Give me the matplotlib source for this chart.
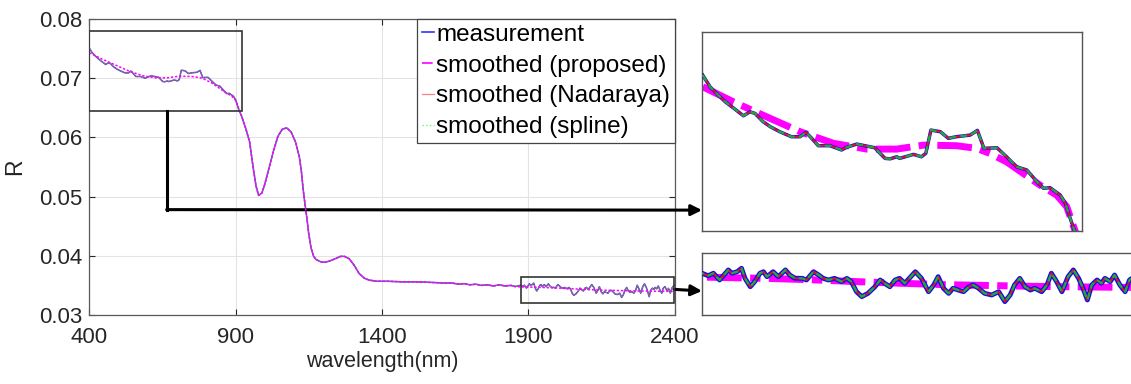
import numpy as np
import matplotlib
matplotlib.use('Agg')
import matplotlib.pyplot as plt
from matplotlib.patches import Rectangle
from matplotlib.lines import Line2D
from matplotlib.ticker import FormatStrFormatter

plt.rcParams['font.family'] = ['Liberation Sans', 'DejaVu Sans']

wl_head = [401, 411, 420, 432, 443, 457, 466, 473, 484, 494, 507, 523, 535, 543, 551,
           560, 576, 592, 599, 613, 624, 638, 645, 652, 659, 668, 672, 691, 702, 708,
           715, 728, 739, 750, 769, 779, 788, 806, 819, 833, 847, 861, 870, 879, 893,
           900, 906, 912]
r_head = [0.07508, 0.07429, 0.07384, 0.07327, 0.07286, 0.07232, 0.07259, 0.07248, 0.07192,
          0.07158, 0.07124, 0.07090, 0.07090, 0.07120, 0.07079, 0.07029, 0.07029, 0.07000,
          0.07018, 0.07040, 0.07029, 0.07015, 0.06977, 0.06943, 0.06940, 0.06954, 0.06943,
          0.06970, 0.06954, 0.06977, 0.07135, 0.07124, 0.07079, 0.07090, 0.07101, 0.07133,
          0.07011, 0.07015, 0.06954, 0.06886, 0.06864, 0.06784, 0.06740, 0.06744, 0.06694,
          0.06638, 0.06547, 0.06460]

wl_mid = [920, 935, 948, 960, 970, 979, 990, 1000, 1016, 1030, 1045, 1060, 1075, 1090,
          1105, 1118, 1125, 1131, 1137, 1143, 1150, 1158, 1166, 1174, 1190, 1205, 1220,
          1240, 1258, 1272, 1288, 1305, 1322, 1340, 1356, 1380, 1420, 1470, 1520, 1570,
          1610, 1640, 1660, 1680, 1700, 1720, 1740, 1760, 1780, 1800, 1820, 1840, 1855]
r_mid = [0.0637, 0.0615, 0.0593, 0.0550, 0.0518, 0.0502, 0.0506, 0.0521, 0.0551, 0.0578,
         0.0602, 0.0614, 0.0616, 0.0609, 0.0592, 0.0567, 0.0542, 0.0512, 0.0488, 0.0466,
         0.0437, 0.0413, 0.0400, 0.0394, 0.0390, 0.0389, 0.0391, 0.0395, 0.0399, 0.0399,
         0.0395, 0.0384, 0.0370, 0.0362, 0.0359, 0.0357, 0.0357, 0.0356, 0.0356, 0.0355,
         0.0354, 0.0354, 0.0352, 0.0353, 0.0351, 0.0352, 0.0350, 0.0351, 0.0349, 0.0351,
         0.0349, 0.0350, 0.0348]

wl_tail = [1873, 1880, 1886, 1893, 1903, 1907, 1913, 1918, 1922, 1928, 1933, 1939, 1943,
           1947, 1954, 1960, 1968, 1973, 1979, 1987, 1992, 2000, 2006, 2011, 2017, 2024,
           2032, 2038, 2043, 2049, 2055, 2062, 2070, 2076, 2081, 2087, 2093, 2098, 2104,
           2116, 2123, 2131, 2137, 2142, 2148, 2154, 2159, 2165, 2171, 2177, 2182, 2188,
           2195, 2203, 2211, 2218, 2224, 2229, 2235, 2241, 2247, 2252, 2260, 2266, 2271,
           2277, 2283, 2290, 2296, 2302, 2307, 2312, 2317, 2323, 2328, 2332, 2338, 2343,
           2349, 2355, 2360, 2366, 2372, 2378, 2384, 2390, 2397]
r_tail = [0.03503, 0.03485, 0.03503, 0.03454, 0.03527, 0.03503, 0.03514, 0.03539, 0.03466,
          0.03405, 0.03442, 0.03503, 0.03514, 0.03478, 0.03514, 0.03478, 0.03527, 0.03490,
          0.03466, 0.03466, 0.03454, 0.03514, 0.03490, 0.03466, 0.03454, 0.03466, 0.03442,
          0.03466, 0.03442, 0.03369, 0.03333, 0.03357, 0.03405, 0.03454, 0.03430, 0.03405,
          0.03454, 0.03466, 0.03430, 0.03514, 0.03466, 0.03369, 0.03418, 0.03478, 0.03394,
          0.03357, 0.03394, 0.03381, 0.03369, 0.03405, 0.03418, 0.03394, 0.03357, 0.03345,
          0.03369, 0.03297, 0.03345, 0.03418, 0.03466, 0.03405, 0.03381, 0.03394, 0.03369,
          0.03418, 0.03503, 0.03442, 0.03369, 0.03478, 0.03527, 0.03466, 0.03394, 0.03309,
          0.03418, 0.03454, 0.03430, 0.03466, 0.03442, 0.03490, 0.03418, 0.03369, 0.03454,
          0.03480, 0.03410, 0.03450, 0.03370, 0.03460, 0.03500]

# proposed smoother differs from the measurement only at both ends
wl_prop_head = [401, 443, 489, 535, 581, 627, 668, 705, 750, 778, 796, 819, 842, 865, 888, 902, 913]
r_prop_head = [0.07429, 0.07327, 0.07225, 0.07124, 0.07045, 0.07006, 0.07006, 0.07033,
               0.07029, 0.07011, 0.06977, 0.06920, 0.06841, 0.06762, 0.06694, 0.06615, 0.06457]
wl_prop_tail = [1873, 1950, 2000, 2050, 2100, 2150, 2200, 2250, 2300, 2350, 2400]
r_prop_tail = [0.03475, 0.03465, 0.03455, 0.03442, 0.03430, 0.03420, 0.03414, 0.03408,
               0.03404, 0.03401, 0.03398]

wl_meas = wl_head + wl_mid + wl_tail
r_meas = r_head + r_mid + r_tail
# Nadaraya and spline curves sit on top of the measurement in the picture
r_nadaraya = list(r_meas)
r_spline = list(r_meas)
wl_prop = wl_prop_head + wl_mid + wl_prop_tail
r_prop = r_prop_head + r_mid + r_prop_tail

xticks = [400, 900, 1400, 1900, 2400]
yticks = [0.03, 0.04, 0.05, 0.06, 0.07, 0.08]
zoom1 = (400, 923, 0.0645, 0.078)
zoom2 = (1873, 2397, 0.032, 0.0365)

blue = '#3030ff'
mag = '#ff00ff'

fig = plt.figure(figsize=(11.31, 3.84), dpi=100)
ax = fig.add_axes([0.0787, 0.1797, 0.5181, 0.7708])

ax.plot(wl_meas, r_meas, color=blue, lw=1.1, zorder=2)
ax.plot(wl_meas, r_nadaraya, color='#ff5050', lw=0.4, zorder=3)
ax.plot(wl_meas, r_spline, color='#30d030', lw=0.5, ls=':', zorder=3)
ax.plot(wl_prop, r_prop, color=mag, lw=1.1, ls=(0, (1.5, 1.2)), zorder=4)

ax.set_xlim(400, 2400)
ax.set_ylim(0.03, 0.08)
ax.set_xticks(xticks)
ax.set_yticks(yticks)
ax.yaxis.set_major_formatter(FormatStrFormatter('%.2f'))
ax.grid(True, color='#e3e3e3', lw=0.8, zorder=0)
ax.tick_params(direction='in', top=True, right=True, length=4, labelsize=16,
               colors='#262626')
ax.tick_params(axis='x', pad=9)
ax.tick_params(axis='y', pad=5)
for s in ax.spines.values():
    s.set_color('#5a5a5a')
    s.set_linewidth(0.9)
ax.set_xlabel('wavelength(nm)', fontsize=15.5, color='#262626', labelpad=2)
ax.set_ylabel('R', fontsize=16.5, color='#262626', labelpad=9)

for x0, x1, y0, y1 in [zoom1, zoom2]:
    ax.add_patch(Rectangle((x0, y0), x1 - x0, y1 - y0, fill=False, ec='#333333',
                           lw=1.2, zorder=6))

handles = [Line2D([], [], color=blue, lw=1.2),
           Line2D([], [], color=mag, lw=1.2, ls='-.'),
           Line2D([], [], color='#ff8080', lw=0.9),
           Line2D([], [], color='#60ff60', lw=1.0, ls=':')]
labels = ['measurement', 'smoothed (proposed)', 'smoothed (Nadaraya)', 'smoothed (spline)']
leg = ax.legend(handles, labels, loc='upper right', fontsize=17.5, handlelength=0.5,
                handletextpad=0.1, borderpad=0.2, labelspacing=0.36,
                borderaxespad=0, fancybox=False, framealpha=1, edgecolor='#444444')
leg.get_frame().set_linewidth(0.9)
leg.set_zorder(7)

ins1 = fig.add_axes([0.6207, 0.3984, 0.336, 0.518])
ins2 = fig.add_axes([0.6207, 0.1797, 0.4067, 0.1615])
for ins, (x0, x1, y0, y1), bw in [(ins1, zoom1, 2.5), (ins2, zoom2, 3.5)]:
    ins.plot(wl_prop, r_prop, color=mag, lw=5, ls=(0, (5, 1.2, 1.5, 1.2)), zorder=2)
    ins.plot(wl_meas, r_meas, color='#1010ee', lw=bw, zorder=3, solid_joinstyle='round')
    ins.plot(wl_meas, r_nadaraya, color='#e01818', lw=1.4, zorder=4, solid_joinstyle='round')
    ins.plot(wl_meas, r_spline, color='#22aa33', lw=1.6, ls=(0, (3, 2)), zorder=5)
    ins.set_xlim(x0, x1)
    ins.set_ylim(y0, y1)
    ins.set_xticks([])
    ins.set_yticks([])
    for s in ins.spines.values():
        s.set_color('#555555')
        s.set_linewidth(1.0)

# connector arrows
ax.plot([665, 665], [zoom1[2], 0.0478], color='k', lw=2.2, zorder=6, clip_on=False)
arrow = dict(arrowstyle='-|>', color='k', lw=2.2, shrinkA=0, shrinkB=0, mutation_scale=16)
ax.annotate('', xy=(0, 0.105), xycoords=ins1.transAxes, xytext=(665, 0.0478),
            textcoords='data', arrowprops=arrow, annotation_clip=False)
ax.annotate('', xy=(0, 0.387), xycoords=ins2.transAxes, xytext=(2397, 0.03433),
            textcoords='data', arrowprops=arrow, annotation_clip=False)

fig.savefig('out.png', dpi=100)
